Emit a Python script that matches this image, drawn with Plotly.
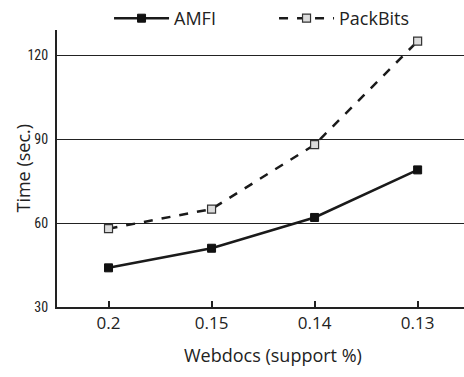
import plotly.graph_objects as go

categories = ["0.2", "0.15", "0.14", "0.13"]
amfi = [44, 51, 62, 79]
packbits = [58, 65, 88, 125]
y_ticks = [30, 60, 90, 120]

fig = go.Figure()
fig.add_trace(go.Scatter(
    x=categories, y=amfi, name="AMFI", mode="lines+markers",
    line=dict(color="#1a1a1a", width=2.5),
    marker=dict(symbol="square", size=8, color="#111111",
                line=dict(color="#111111", width=1)),
))
fig.add_trace(go.Scatter(
    x=categories, y=packbits, name="PackBits", mode="lines+markers",
    line=dict(color="#1a1a1a", width=2.5, dash="dash"),
    marker=dict(symbol="square", size=8, color="#dcdcdc",
                line=dict(color="#333333", width=1.2)),
))

fig.update_layout(
    width=464, height=377,
    margin=dict(l=57, r=0, t=30, b=70, autoexpand=False),
    paper_bgcolor="white", plot_bgcolor="white",
    font=dict(family="Open Sans, Noto Sans, sans-serif", color="#222222"),
    showlegend=True,
    legend=dict(orientation="h", x=0.235, xanchor="left", xref="container",
                y=1.0, yanchor="top", yref="container",
                font=dict(size=18), itemwidth=55,
                entrywidth=95, entrywidthmode="pixels",
                bgcolor="rgba(0,0,0,0)", tracegroupgap=0),
    xaxis=dict(
        type="category", range=[-0.5, 3.45],
        showline=True, linecolor="#222222", linewidth=2,
        ticks="inside", ticklen=6, tickwidth=1.5, tickcolor="#222222",
        tickfont=dict(size=17), showgrid=False, zeroline=False,
    ),
    yaxis=dict(
        range=[30, 129], tickvals=y_ticks,
        showline=True, linecolor="#222222", linewidth=2,
        showgrid=True, gridcolor="#222222", gridwidth=1.3,
        ticks="", ticklabelstandoff=4,
        tickfont=dict(size=14, family="Liberation Sans Narrow, Roboto Condensed, DejaVu Sans Condensed, sans-serif"),
        zeroline=False,
    ),
    annotations=[
        dict(text="Webdocs (support %)", xref="paper", yref="paper",
             x=0.53, y=-0.173, xanchor="center", yanchor="middle",
             showarrow=False, font=dict(size=18)),
        dict(text="Time (sec.)", xref="paper", yref="paper",
             x=(22 - 57) / 407, y=0.5, xanchor="center", yanchor="middle",
             textangle=-90, showarrow=False, font=dict(size=18)),
    ],
)

fig.write_html("out.html")
